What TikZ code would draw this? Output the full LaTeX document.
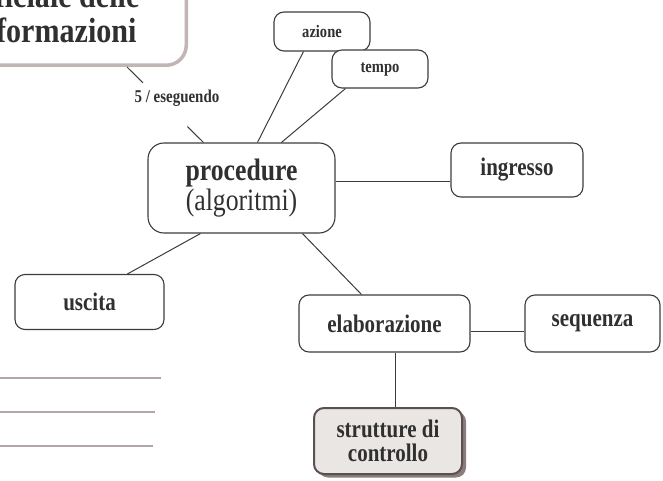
\documentclass[tikz,border=0pt]{standalone}
\usepackage{fontspec}
\setmainfont[FakeStretch=0.83]{Liberation Serif}
\newfontfamily\titlefont[FakeStretch=0.86]{Liberation Serif}
\usetikzlibrary{calc,shadows}
\definecolor{ink}{HTML}{303030}
\definecolor{edge}{HTML}{3C3C3C}
\definecolor{mauve}{HTML}{C2B6B4}
\definecolor{rule}{HTML}{B3A7A5}
\definecolor{paleface}{HTML}{E9E6E4}
\definecolor{darkedge}{HTML}{5A5050}
\definecolor{shade}{HTML}{8C7C7C}
\tikzset{
  box/.style={draw=edge, line width=1.1pt, rounded corners=10pt, fill=white,
    text=ink, align=center, inner sep=2pt},
  small/.style={font=\fontsize{17.5}{19}\selectfont\bfseries},
  mid/.style={font=\fontsize{25.3}{24}\selectfont\bfseries},
  conn/.style={draw=edge, line width=1pt},
  ruleline/.style={draw=rule, line width=1.6pt},
}
\begin{document}
\begin{tikzpicture}[x=1pt,y=-1pt]
\useasboundingbox (0,0) rectangle (663,481);
\clip (0,0) rectangle (663,481);

% title box, partly outside the page
\node[box, draw=mauve, line width=3.5pt, rounded corners=20pt,
      minimum width=265pt, inner ysep=23pt, anchor=south east,
      font=\titlefont\fontsize{35}{35}\selectfont\bfseries, text depth=0pt]
      (tl) at (188,67) {ufficiale delle\\informazioni};

% concept boxes
\node[box, small, minimum width=96pt, minimum height=39pt] (azione) at (322,31.5) {azione};
\node[box, small, minimum width=96pt, minimum height=38pt] (tempo) at (380,69) {tempo};
\node[box, rounded corners=16pt, minimum width=187pt, minimum height=90pt,
      font=\fontsize{31}{30}\selectfont] (proc) at (241.5,188)
      {\textbf{procedure}\\(algoritmi)};
\node[box, mid, minimum width=132pt, minimum height=54pt] (ingresso) at (517,170) {ingresso};
\node[box, mid, minimum width=149pt, minimum height=55pt] (uscita) at (89.5,302) {uscita};
\node[box, mid, minimum width=171pt, minimum height=57pt] (elab) at (384.5,323.5) {elaborazione};
\node[box, mid, minimum width=135pt, minimum height=57pt] (seq) at (592.5,323.5) {sequenza};
\node[box, mid, draw=darkedge, line width=2pt, fill=paleface,
      drop shadow={shadow xshift=4pt, shadow yshift=-3.5pt, fill=shade, opacity=1},
      minimum width=148pt, minimum height=66pt, text depth=-4pt] (strut) at (388,441)
      {strutture di\\controllo};

% link label
\node[text=ink, font=\fontsize{18}{19}\selectfont\bfseries] (lbl) at (177,98) {5 / eseguendo};

% connectors
\coordinate (ta) at ($(tl.south east)+(-61,0)$);
\coordinate (tb) at ($(proc.north west)+(56,0)$);
\draw[conn] (ta) -- ($(ta)!0.21!(tb)$);
\draw[conn] ($(ta)!0.79!(tb)$) -- (tb);
\draw[conn] ($(proc.north west)+(110,0)$) -- ($(azione.south west)+(30,0)$);
\draw[conn] ($(proc.north west)+(134,0)$) -- ($(tempo.south west)+(14,0)$);
\draw[conn] ($(proc.east)+(0,-7)$) -- ($(ingresso.west)+(0,11)$);
\draw[conn] ($(proc.south west)+(53,0)$) -- ($(uscita.north west)+(113,0)$);
\draw[conn] ($(proc.south west)+(155,0)$) -- ($(elab.north west)+(63,0)$);
\draw[conn] ($(elab.east)+(0,7.5)$) -- ($(seq.west)+(0,7.5)$);
\draw[conn] ($(elab.south)+(10.5,0)$) -- ($(strut.north)+(7,0)$);

% ruled lines at the left
\draw[ruleline] (0,378) -- (161,378);
\draw[ruleline] (0,412) -- (155,412);
\draw[ruleline] (0,446) -- (153,446);
\end{tikzpicture}
\end{document}
